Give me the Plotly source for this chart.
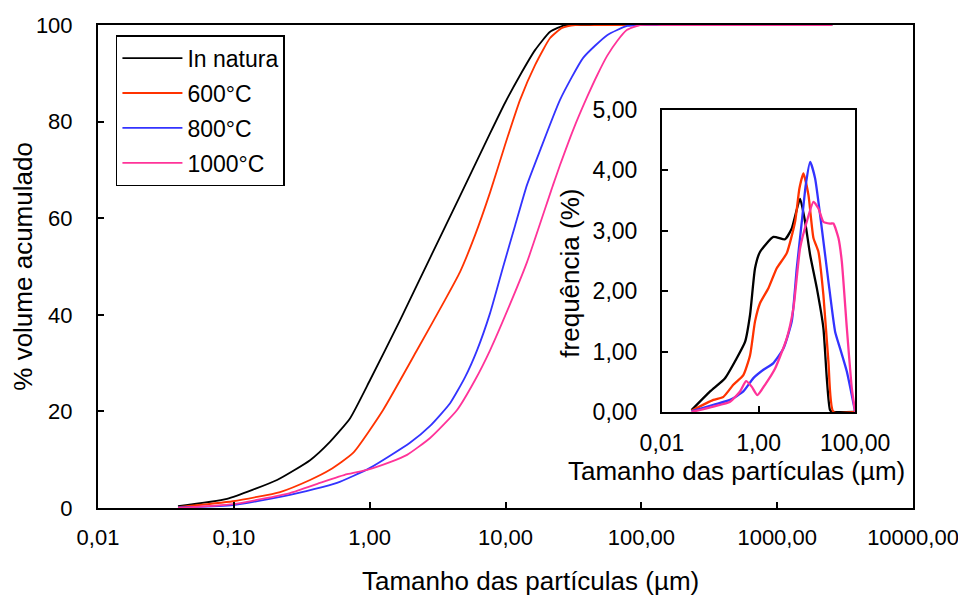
import plotly.graph_objects as go

# ---------------- data: cumulative (main chart) ----------------
series_names = ["In natura", "600°C", "800°C", "1000°C"]
series_colors = ["#000000", "#FF3300", "#3333FF", "#FF3399"]

x_natura = [0.0388, 0.0891, 0.208, 0.364, 0.510, 0.718, 1.007, 1.675, 2.786, 4.63, 7.71, 9.93, 12.8, 16.5, 21.3, 27.5, 35, 50, 100, 200, 500, 1000, 2540]
y_natura = [0.4, 1.9, 5.8, 9.9, 13.7, 18.6, 26.5, 38.9, 51.8, 64.6, 77.6, 83.9, 89.6, 94.8, 98.6, 100, 100, 100, 100, 100, 100, 100, 100]

x_600 = [0.0388, 0.0986, 0.219, 0.364, 0.510, 0.755, 1.256, 2.234, 3.59, 4.63, 5.97, 7.71, 9.93, 12.8, 16.5, 21.3, 26.1, 32.6, 45, 70, 100, 200, 500, 1000, 2540]
y_600 = [0.2, 1.4, 3.3, 5.8, 7.9, 11.4, 20.3, 32.7, 43.1, 48.9, 56.5, 65.4, 75.2, 84.5, 91.7, 97.3, 99.4, 100, 100, 100, 100, 100, 100, 100, 100]

x_800 = [0.0388, 0.0986, 0.259, 0.575, 1.007, 1.98, 2.786, 3.91, 5.04, 6.18, 7.71, 9.60, 11.8, 14.4, 18.0, 25.2, 37.3, 56.0, 78.6, 98.0, 140, 200, 500, 1000, 2540]
y_800 = [0.1, 0.6, 2.7, 5.2, 8.3, 13.5, 17.0, 21.7, 27.1, 32.7, 40.4, 49.9, 58.6, 66.9, 74.1, 84.5, 93.2, 97.9, 99.8, 100, 100, 100, 100, 100, 100]

x_1000 = [0.0388, 0.0986, 0.259, 0.431, 0.682, 0.957, 1.413, 1.885, 2.786, 4.40, 5.97, 7.71, 10.8, 14.4, 22.4, 25.2, 31.5, 39.9, 47.3, 56.0, 66.4, 78.6, 98.0, 140, 200, 500, 1000, 2540]
y_1000 = [0.0, 0.8, 3.1, 5.2, 7.0, 7.9, 9.5, 11.0, 14.5, 20.3, 26.5, 32.7, 42.2, 50.9, 66.9, 71.0, 78.3, 85.1, 89.6, 93.6, 96.7, 99.0, 100, 100, 100, 100, 100, 100]

# ---------------- data: frequency (inset) ----------------
fx_natura = [0.041, 0.099, 0.202, 0.353, 0.525, 0.667, 0.845, 1.07, 2.03, 3.54, 4.87, 7.24, 9.2, 11.7, 16.1, 22.0, 25.9, 30.3, 35, 100]
fy_natura = [0.03, 0.34, 0.56, 0.89, 1.16, 1.61, 2.38, 2.65, 2.90, 2.86, 3.04, 3.53, 3.15, 2.60, 2.05, 1.39, 0.56, 0.03, 0, 0]

fx_600 = [0.041, 0.116, 0.187, 0.30, 0.484, 0.667, 0.845, 1.07, 1.60, 2.38, 3.84, 5.71, 7.01, 8.49, 10.8, 13.7, 17.4, 22.0, 28.0, 35.5, 100]
fy_600 = [0.02, 0.20, 0.25, 0.45, 0.61, 0.94, 1.50, 1.80, 2.05, 2.38, 2.63, 3.15, 3.70, 3.95, 3.59, 2.88, 2.65, 1.94, 0.83, 0.0, 0.0]

fx_800 = [0.041, 0.116, 0.257, 0.484, 0.78, 1.26, 2.03, 3.27, 4.87, 6.19, 7.86, 9.5, 11.7, 14.8, 20.4, 28.0, 38.5, 48.9, 67.3, 100]
fy_800 = [0.01, 0.12, 0.20, 0.34, 0.56, 0.70, 0.81, 1.05, 1.50, 2.38, 3.15, 3.76, 4.14, 3.87, 3.04, 2.16, 1.33, 1.05, 0.67, 0.0]

fx_1000 = [0.041, 0.116, 0.257, 0.414, 0.551, 0.72, 0.946, 1.36, 2.20, 3.84, 5.27, 7.24, 9.96, 13.7, 17.4, 22.0, 30.3, 35.5, 45.1, 53.0, 67.3, 85.4, 100]
fy_1000 = [0.0, 0.09, 0.17, 0.34, 0.51, 0.42, 0.28, 0.45, 0.72, 1.22, 1.72, 2.71, 3.15, 3.48, 3.37, 3.15, 3.12, 3.12, 2.88, 2.49, 1.39, 0.39, 0.0]

main_xticks = [0.01, 0.1, 1, 10, 100, 1000, 10000]
main_xticktext = ["0,01", "0,10", "1,00", "10,00", "100,00", "1000,00", "10000,00"]
main_yticks = [0, 20, 40, 60, 80, 100]
main_yticktext = ["0", "20", "40", "60", "80", "100"]
inset_xticks = [0.01, 1, 100]
inset_xticktext = ["0,01", "1,00", "100,00"]
inset_yticks = [0, 1, 2, 3, 4, 5]
inset_yticktext = ["0,00", "1,00", "2,00", "3,00", "4,00", "5,00"]

FONT = "Liberation Sans, Arial, sans-serif"

fig = go.Figure()
main_x = [x_natura, x_600, x_800, x_1000]
main_y = [y_natura, y_600, y_800, y_1000]
for i, name in enumerate(series_names):
    fig.add_trace(go.Scatter(
        x=main_x[i], y=main_y[i], mode="lines", name=name,
        line=dict(color=series_colors[i], width=1.8, shape="spline", smoothing=0.5),
        legendgroup=name, xaxis="x", yaxis="y"))

inset_x = [fx_natura, fx_600, fx_800, fx_1000]
inset_y = [fy_natura, fy_600, fy_800, fy_1000]
for i, name in enumerate(series_names):
    fig.add_trace(go.Scatter(
        x=inset_x[i], y=inset_y[i], mode="lines", name=name, showlegend=False,
        line=dict(color=series_colors[i], width=2.3, shape="spline", smoothing=0.5),
        xaxis="x2", yaxis="y2"))

def axis_style(size):
    return dict(showline=True, linecolor="black", linewidth=2, mirror=True,
                ticks="inside", ticklen=6, tickwidth=1.5, tickcolor="black",
                showgrid=False, zeroline=False, automargin=False,
                tickfont=dict(family=FONT, size=size, color="black"))

# page body has an 8px margin, so the figure is 8px smaller and margins shifted
fig.update_layout(
    width=958, height=587,
    margin=dict(l=90, r=53, t=17, b=87, autoexpand=False),
    paper_bgcolor="white", plot_bgcolor="white",
    font=dict(family=FONT, size=22, color="black"),
    xaxis=dict(type="log", range=[-2, 4], tickvals=main_xticks, ticktext=main_xticktext,
               domain=[0, 1], ticklabelstandoff=9, **axis_style(22)),
    yaxis=dict(range=[0, 100], tickvals=main_yticks, ticktext=main_yticktext,
               domain=[0, 1], ticklabelstandoff=19, **axis_style(22)),
    xaxis2=dict(type="log", range=[-2, 2], tickvals=inset_xticks, ticktext=inset_xticktext,
                domain=[0.692, 0.929], anchor="y2", ticklabelstandoff=9, **axis_style(23)),
    yaxis2=dict(range=[0, 5], tickvals=inset_yticks, ticktext=inset_yticktext,
                domain=[0.1988, 0.824], anchor="x2", ticklabelstandoff=18, **axis_style(23)),
    legend=dict(x=0.022, y=0.979, xanchor="left", yanchor="top",
                bordercolor="black", borderwidth=1.5, bgcolor="white",
                font=dict(family=FONT, size=23, color="black"),
                itemwidth=60, traceorder="grouped", tracegroupgap=2),
    showlegend=True,
    annotations=[
        dict(text="Tamanho das partículas (µm)", xref="paper", yref="paper",
             x=0.531, y=-0.151, xanchor="center", yanchor="middle", showarrow=False,
             font=dict(family=FONT, size=26, color="black")),
        dict(text="% volume acumulado", xref="paper", yref="paper",
             x=-0.093, y=0.5, xanchor="center", yanchor="middle", textangle=-90, showarrow=False,
             font=dict(family=FONT, size=26, color="black")),
        dict(text="Tamanho das partículas (µm)", xref="paper", yref="paper",
             x=0.783, y=0.077, xanchor="center", yanchor="middle", showarrow=False,
             font=dict(family=FONT, size=26, color="black")),
        dict(text="frequência (%)", xref="paper", yref="paper",
             x=0.579, y=0.487, xanchor="center", yanchor="middle", textangle=-90, showarrow=False,
             font=dict(family=FONT, size=26, color="black")),
    ],
)

fig.write_html("out.html")
